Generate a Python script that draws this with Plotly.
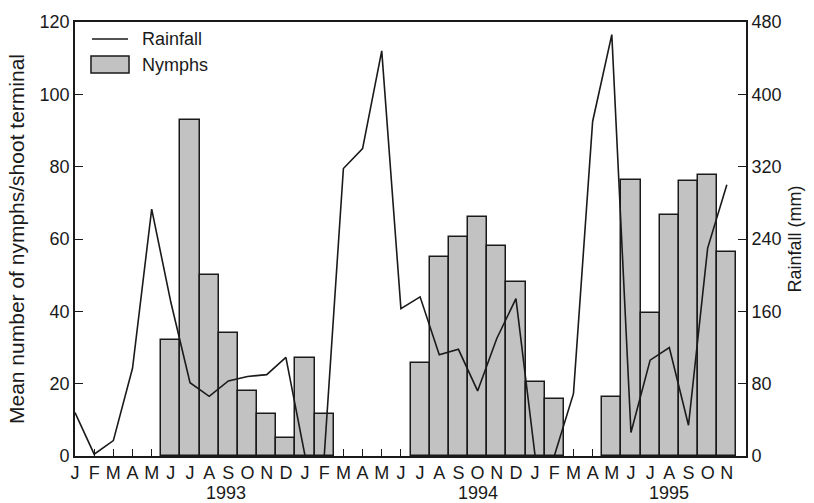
import plotly.graph_objects as go

# Monthly series, January 1993 to November 1995
month_labels = ["J", "F", "M", "A", "M", "J", "J", "A", "S", "O", "N", "D",
                "J", "F", "M", "A", "M", "J", "J", "A", "S", "O", "N", "D",
                "J", "F", "M", "A", "M", "J", "J", "A", "S", "O", "N"]
month_index = list(range(len(month_labels)))

# Monthly rainfall (mm)
rainfall = [48, 2, 17, 97, 273, 170, 81, 66, 83, 88, 90, 109,
            0, 0, 318, 340, 448, 163, 176, 112, 118, 72, 130, 174,
            0, 0, 69, 370, 466, 26, 106, 120, 34, 230, 300]

# Mean number of nymphs per shoot terminal (None = not sampled)
nymphs = [None, None, None, None, None, 32, 93, 50, 34, 18, 11.5, 5,
          27, 11.5, None, None, None, None, 25.6, 55, 60.5, 66, 58, 48,
          20.4, 15.7, None, None, 16.4, 76.3, 39.6, 66.6, 76, 77.8, 56.3]

year_labels = ["1993", "1994", "1995"]
year_label_pos = [7.9, 21.0, 31.0]

FONT = "Liberation Sans, Arial, Helvetica, sans-serif"
INK = "#1a1a1a"

fig = go.Figure()

fig.add_trace(go.Bar(
    x=month_index, y=nymphs, name="Nymphs", width=1.0,
    marker=dict(color="#c2c2c2", line=dict(color=INK, width=1.5)),
    showlegend=False,
))

fig.add_trace(go.Scatter(
    x=month_index, y=rainfall, name="Rainfall", yaxis="y2",
    mode="lines", line=dict(color=INK, width=1.6),
    showlegend=False,
))

# Legend drawn in the upper-left corner of the plot area
fig.add_shape(type="line", xref="paper", yref="paper",
              x0=0.0253, x1=0.079, y0=0.961, y1=0.961,
              line=dict(color=INK, width=1.6))
fig.add_shape(type="rect", xref="paper", yref="paper",
              x0=0.0238, x1=0.0805, y0=0.8825, y1=0.9217,
              fillcolor="#c2c2c2", line=dict(color=INK, width=1.5))
for txt, yy in [("Rainfall", 0.961), ("Nymphs", 0.9017)]:
    fig.add_annotation(text=txt, xref="paper", yref="paper", x=0.0969, y=yy,
                       xanchor="left", yanchor="middle", showarrow=False,
                       font=dict(family=FONT, size=18, color=INK))

# Year labels under the month letters
for yr, pos in zip(year_labels, year_label_pos):
    fig.add_annotation(text=yr, x=pos, xref="x", y=-0.085, yref="paper",
                       yanchor="middle", showarrow=False,
                       font=dict(family=FONT, size=18, color=INK))

fig.update_layout(
    width=814, height=503,
    margin=dict(l=75, r=68, t=22, b=47),
    paper_bgcolor="white", plot_bgcolor="white",
    font=dict(family=FONT, size=18, color=INK),
    bargap=0,
    xaxis=dict(
        range=[0, 35], tickmode="array", tickvals=month_index, ticktext=month_labels,
        ticks="inside", ticklen=7, tickwidth=1.2, tickcolor=INK,
        showline=True, linecolor=INK, linewidth=1.6, mirror=True,
        showgrid=False, zeroline=False, layer="below traces",
        tickfont=dict(family=FONT, size=18, color=INK),
    ),
    yaxis=dict(
        range=[0, 120], tickvals=[0, 20, 40, 60, 80, 100, 120],
        ticks="inside", ticklen=8, tickwidth=1.2, tickcolor=INK,
        showline=True, linecolor=INK, linewidth=1.6,
        showgrid=False, zeroline=False,
        title=dict(text="Mean number of nymphs/shoot terminal",
                   font=dict(family=FONT, size=21, color=INK), standoff=9),
        tickfont=dict(family=FONT, size=18, color=INK),
    ),
    yaxis2=dict(
        range=[0, 480], tickvals=[0, 80, 160, 240, 320, 400, 480],
        overlaying="y", side="right",
        ticks="inside", ticklen=8, tickwidth=1.2, tickcolor=INK,
        showline=True, linecolor=INK, linewidth=1.6,
        showgrid=False, zeroline=False,
        title=dict(text="Rainfall (mm)",
                   font=dict(family=FONT, size=18, color=INK), standoff=8),
        tickfont=dict(family=FONT, size=18, color=INK),
    ),
)

fig.write_html("out.html")
